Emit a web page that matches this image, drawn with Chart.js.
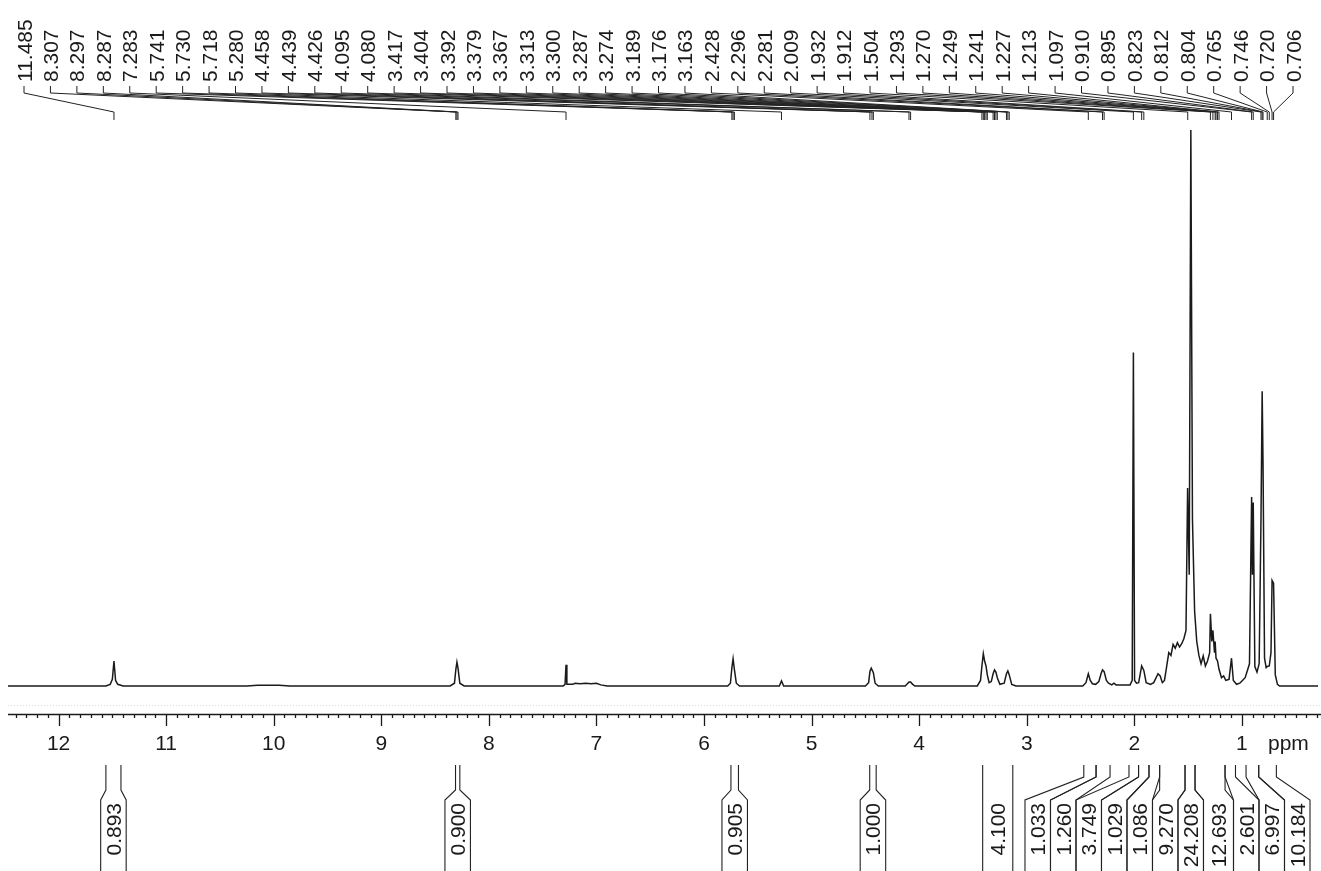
<!DOCTYPE html>
<html>
<head>
<meta charset="utf-8">
<script src="https://cdn.jsdelivr.net/npm/chart.js@4"></script>
<style>
  html, body { margin: 0; padding: 0; background: #ffffff; }
  #wrap { width: 1321px; height: 871px; position: relative; }
</style>
</head>
<body>
<div id="wrap"><canvas id="c" width="1321" height="871"></canvas></div>
<script>
// ---- spectrum (ppm, relative intensity; tallest = 100) ----
const ppm = [
  12.47, 11.56, 11.52, 11.50, 11.485, 11.47, 11.45, 11.40,
  10.25, 10.15, 9.95, 9.85,
  8.36, 8.32, 8.307, 8.297, 8.287, 8.27, 8.23,
  7.31, 7.292, 7.283, 7.275, 7.22, 7.20, 7.15, 7.10, 7.05, 7.00, 6.96, 6.90,
  5.78, 5.755, 5.741, 5.730, 5.718, 5.70, 5.67,
  5.30, 5.28, 5.26,
  4.50, 4.47, 4.458, 4.446, 4.426, 4.41, 4.38,
  4.13, 4.11, 4.095, 4.080, 4.06, 4.04,
  3.46, 3.43, 3.417, 3.404, 3.392, 3.379, 3.367, 3.35, 3.33, 3.313, 3.300, 3.287, 3.274, 3.25,
  3.21, 3.189, 3.176, 3.163, 3.14, 3.10,
  2.48, 2.45, 2.428, 2.41, 2.39, 2.36, 2.33, 2.31, 2.296, 2.281, 2.26, 2.24, 2.21, 2.19, 2.17,
  2.04, 2.02, 2.009, 1.998, 1.98, 1.96, 1.932, 1.912, 1.89, 1.85, 1.82, 1.78, 1.76, 1.74, 1.72,
  1.70, 1.68, 1.66, 1.64, 1.62, 1.60, 1.58, 1.56, 1.54, 1.52, 1.505, 1.49, 1.475, 1.46, 1.44,
  1.42, 1.40, 1.38, 1.36, 1.34, 1.32, 1.30, 1.293, 1.28, 1.270, 1.255, 1.249, 1.241, 1.227, 1.213,
  1.19, 1.17, 1.15, 1.12, 1.097, 1.08, 1.05, 1.02, 1.00, 0.97, 0.93, 0.910, 0.903, 0.895, 0.88,
  0.86, 0.84, 0.823, 0.812, 0.804, 0.79, 0.775, 0.765, 0.746, 0.730, 0.720, 0.706, 0.69, 0.67,
  0.65, 0.293
];
const intensity = [
  0, 0, 0.3, 1.2, 4.5, 1.0, 0.3, 0,
  0, 0.15, 0.15, 0,
  0, 0.5, 3.0, 4.3, 3.2, 0.5, 0,
  0, 0.3, 3.8, 0.3, 0.3, 0.5, 0.4, 0.5, 0.4, 0.5, 0.2, 0,
  0, 0.5, 3.3, 4.9, 3.0, 0.5, 0,
  0, 0.9, 0,
  0, 0.6, 2.6, 3.2, 2.4, 0.5, 0,
  0, 0.4, 0.7, 0.7, 0.3, 0,
  0, 1.0, 3.6, 5.8, 4.5, 3.6, 2.0, 0.6, 0.8, 2.2, 2.9, 2.5, 1.5, 0.3,
  0.5, 2.2, 2.7, 2.0, 0.3, 0,
  0, 0.6, 2.2, 1.0, 0.4, 0.3, 0.8, 2.2, 2.9, 2.6, 1.0, 0.5, 0.2, 0.5, 0.2,
  0.2, 1.0, 60, 1.0, 0.5, 0.6, 3.6, 2.8, 0.6, 0.3, 0.6, 2.2, 1.8, 0.6, 1.0,
  3.5, 6.0, 5.5, 7.5, 6.8, 7.8, 7.0, 7.6, 8.5, 10, 35.6, 20, 100, 30, 13.5,
  8, 5.5, 4.0, 5.4, 3.6, 4.5, 6, 13, 8, 10, 6, 8, 5, 4.5, 3,
  1.5, 1.8, 1.0, 1.2, 5.0, 1.0, 0.3, 0.5, 0.9, 1.5, 4.0, 34, 20, 33, 3.5,
  2.5, 4.0, 30, 53, 40, 5, 3.3, 3.5, 3.6, 6, 19, 18.5, 2, 0.3,
  0, 0
];

// ---- axis ----
const axisTickLabels = ['12', '11', '10', '9', '8', '7', '6', '5', '4', '3', '2', '1'];
const axisUnit = 'ppm';

// ---- peak picking labels ----
const peakLabels = [
  '11.485', '8.307', '8.297', '8.287', '7.283', '5.741', '5.730', '5.718', '5.280',
  '4.458', '4.439', '4.426', '4.095', '4.080', '3.417', '3.404', '3.392', '3.379',
  '3.367', '3.313', '3.300', '3.287', '3.274', '3.189', '3.176', '3.163', '2.428',
  '2.296', '2.281', '2.009', '1.932', '1.912', '1.504', '1.293', '1.270', '1.249',
  '1.241', '1.227', '1.213', '1.097', '0.910', '0.895', '0.823', '0.812', '0.804',
  '0.765', '0.746', '0.720', '0.706'
];

// ---- integrals ----
const integralLabels = ['0.893', '0.900', '0.905', '1.000', '4.100', '1.033', '1.260', '3.749',
  '1.029', '1.086', '9.270', '24.208', '12.693', '2.601', '6.997', '10.184'];
const integralFrom = [11.56, 8.31, 5.75, 4.46, 3.41, 2.47, 2.356, 2.05, 1.961, 1.864, 1.765,
  1.529, 1.436, 1.157, 0.962, 0.844];
const integralTo = [11.42, 8.27, 5.68, 4.40, 3.13, 2.356, 2.226, 1.961, 1.864, 1.765, 1.529,
  1.436, 1.157, 1.06, 0.844, 0.68];

const FONT = '21px "Liberation Sans", Arial, Helvetica, sans-serif';
const INK = '#1a1a1a';

const decorPlugin = {
  id: 'nmrDecor',
  afterDraw(chart) {
    const ctx = chart.ctx;
    const xs = chart.scales.x;
    const px = v => xs.getPixelForValue(v);
    const W = chart.width, H = chart.height;
    const axisY = chart.chartArea.bottom;

    ctx.save();
    ctx.strokeStyle = INK;
    ctx.fillStyle = INK;
    ctx.lineWidth = 1;

    // faint dotted line above the axis
    ctx.save();
    ctx.strokeStyle = '#dcdcdc';
    ctx.setLineDash([1, 2]);
    ctx.beginPath();
    ctx.moveTo(8, axisY - 8.5); ctx.lineTo(W, axisY - 8.5);
    ctx.stroke();
    ctx.restore();

    // axis line
    ctx.lineWidth = 1.5;
    ctx.beginPath();
    ctx.moveTo(8, axisY + 0.5); ctx.lineTo(W, axisY + 0.5);
    ctx.stroke();
    // ticks
    ctx.lineWidth = 1.3;
    const lo = xs.min, hi = xs.max;
    for (let k = Math.ceil(lo * 10); k <= Math.floor(hi * 10); k++) {
      const x = Math.round(px(k / 10)) + 0.5;
      const major = (k % 10 === 0);
      ctx.beginPath();
      ctx.moveTo(x, axisY);
      ctx.lineTo(x, axisY + (major ? 12 : 4));
      ctx.stroke();
    }
    // tick labels
    ctx.font = FONT;
    ctx.textAlign = 'center';
    ctx.textBaseline = 'middle';
    axisTickLabels.forEach(t => {
      ctx.fillText(t, px(parseFloat(t)), axisY + 30);
    });
    ctx.textAlign = 'left';
    ctx.fillText(axisUnit, 1268, axisY + 30);

    // peak labels with fan lines
    const n = peakLabels.length;
    const x0 = 24, x1 = 1293;
    ctx.lineWidth = 1;
    ctx.strokeStyle = '#222222';
    peakLabels.forEach((t, i) => {
      const lx = x0 + i * (x1 - x0) / (n - 1);
      const pxx = px(parseFloat(t));
      ctx.beginPath();
      ctx.moveTo(lx, 86);
      ctx.lineTo(lx, 93);
      ctx.lineTo(pxx, 112);
      ctx.lineTo(pxx, 120);
      ctx.stroke();
    });
    ctx.font = FONT;
    ctx.textAlign = 'left';
    ctx.textBaseline = 'alphabetic';
    peakLabels.forEach((t, i) => {
      const lx = x0 + i * (x1 - x0) / (n - 1);
      ctx.save();
      ctx.translate(lx + 7.5, 82);
      ctx.rotate(-Math.PI / 2);
      ctx.fillText(t, 0, 0);
      ctx.restore();
    });

    // integrals: compute box layout (de-overlap by clustering)
    const BW = 25.5;
    const items = integralLabels.map((lab, i) => {
      const a = px(integralFrom[i]), b = px(integralTo[i]);
      const w = Math.max(BW, b - a);
      return { lab, a, b, w, c: (a + b) / 2 };
    }).sort((p, q) => p.c - q.c);
    let clusters = items.map(it => ({ list: [it], width: it.w, left: it.c - it.w / 2 }));
    let merged = true;
    while (merged) {
      merged = false;
      for (let k = 0; k < clusters.length - 1; k++) {
        const A = clusters[k], B = clusters[k + 1];
        if (A.left + A.width > B.left + 0.1) {
          const list = A.list.concat(B.list);
          const width = A.width + B.width;
          const meanC = list.reduce((s, it) => s + it.c, 0) / list.length;
          clusters.splice(k, 2, { list, width, left: meanC - width / 2 });
          merged = true;
          break;
        }
      }
    }
    const rightLimit = 1310;
    clusters.forEach(cl => {
      if (cl.left + cl.width > rightLimit) cl.left = rightLimit - cl.width;
      let cur = cl.left;
      cl.list.forEach(it => { it.bl = cur; it.br = cur + it.w; cur += it.w; });
    });

    ctx.strokeStyle = '#222222';
    ctx.lineWidth = 1.1;
    const yTop = 765, yBox = 800, yEnd = H;
    items.forEach(it => {
      const far = Math.abs(it.bl - it.a) > 12 || Math.abs(it.br - it.b) > 12;
      const knee = far ? 777 : 790;
      [[it.a, it.bl], [it.b, it.br]].forEach(([from, to]) => {
        ctx.beginPath();
        ctx.moveTo(from, yTop);
        ctx.lineTo(from, knee);
        ctx.lineTo(to, yBox);
        ctx.lineTo(to, yEnd);
        ctx.stroke();
      });
      ctx.save();
      ctx.font = FONT;
      ctx.textAlign = 'right';
      ctx.textBaseline = 'alphabetic';
      ctx.translate((it.bl + it.br) / 2 + 7.5, 803);
      ctx.rotate(-Math.PI / 2);
      ctx.fillText(it.lab, 0, 0);
      ctx.restore();
    });

    ctx.restore();
  }
};

new Chart(document.getElementById('c'), {
  type: 'line',
  data: {
    datasets: [{
      label: 'spectrum',
      data: ppm.map((p, i) => ({ x: p, y: intensity[i] })),
      borderColor: INK,
      borderWidth: 1.5,
      pointRadius: 0,
      tension: 0,
      fill: false
    }]
  },
  options: {
    responsive: false,
    animation: false,
    parsing: false,
    layout: { padding: { left: 8, right: 3, top: 124, bottom: 157 } },
    plugins: { legend: { display: false }, tooltip: { enabled: false } },
    scales: {
      x: { type: 'linear', reverse: true, min: 0.293, max: 12.47, display: false },
      y: { type: 'linear', min: -5.036, max: 101.08, display: false }
    }
  },
  plugins: [decorPlugin]
});
</script>
</body>
</html>
